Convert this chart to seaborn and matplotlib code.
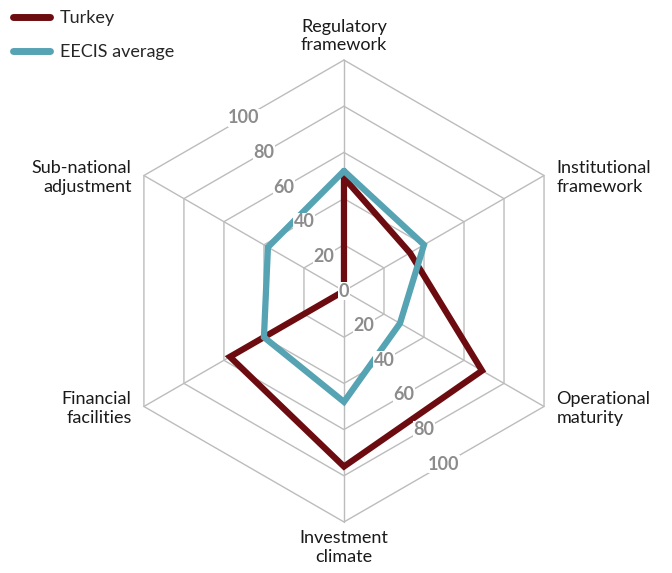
import numpy as np
import pandas as pd
import matplotlib.pyplot as plt
import seaborn as sns

# Data
categories = ["Regulatory\nframework", "Institutional\nframework", "Operational\nmaturity",
              "Investment\nclimate", "Financial\nfacilities", "Sub-national\nadjustment"]
series_names = ["Turkey", "EECIS average"]
turkey = [49, 33, 69, 76, 57, 0]
eecis = [52, 40, 28, 48, 40, 38]
ring_levels = [20, 40, 60, 80, 100]
upper_ticks = [0, 20, 40, 60, 80, 100]
lower_ticks = [20, 40, 60, 80, 100]

colors = {"Turkey": "#6d0c10", "EECIS average": "#55a3b3"}
grid_color = "#bcbcbc"

sns.set_theme(style="white")
plt.rcParams['font.family'] = ['Lato', 'DejaVu Sans']

# axes go clockwise starting at the top
angles = np.deg2rad(90 - 60 * np.arange(len(categories)))


def to_xy(vals):
    v = np.append(vals, vals[0])
    a = np.append(angles, angles[0])
    return v * np.cos(a), v * np.sin(a)


rows = []
for name, vals in zip(series_names, [turkey, eecis]):
    xs, ys = to_xy(np.array(vals, dtype=float))
    for i, (x, y) in enumerate(zip(xs, ys)):
        rows.append({"series": name, "order": i, "x": x, "y": y})
df = pd.DataFrame(rows)

fig = plt.figure(figsize=(6.72, 5.73), dpi=100)
ax = fig.add_axes([0, 0, 1, 1])

# hexagonal grid
for lvl in ring_levels:
    gx, gy = to_xy(np.full(len(categories), lvl, dtype=float))
    ax.plot(gx, gy, color=grid_color, lw=1.0, zorder=1)
for a in angles:
    ax.plot([0, 100 * np.cos(a)], [0, 100 * np.sin(a)], color=grid_color, lw=1.0, zorder=1)

# data polygons
sns.lineplot(data=df, x="x", y="y", hue="series", palette=colors, sort=False,
             estimator=None, lw=4.5, solid_joinstyle="miter", ax=ax, zorder=3)

# radial tick labels sit on the edge midpoints between axes
cos30 = np.cos(np.deg2rad(30))
tick_style = dict(ha="center", va="center", color="#8c8c8c", fontsize=13, fontweight="bold",
                  bbox=dict(fc="white", ec="none", pad=0.3), zorder=5)
for v in upper_ticks:
    r = v * cos30
    a = np.deg2rad(120)
    ax.text(r * np.cos(a), r * np.sin(a), str(v), **tick_style)
for v in lower_ticks:
    r = v * cos30
    a = np.deg2rad(300)
    ax.text(r * np.cos(a), r * np.sin(a), str(v), **tick_style)

# category labels
for cat, a in zip(categories, angles):
    cx, cy = np.cos(a), np.sin(a)
    if abs(cx) < 1e-6:
        y = 103.0 if cy > 0 else -103.5
        ax.text(0, y, cat, ha="center", va="bottom" if cy > 0 else "top",
                fontsize=13, color="#1a1a1a")
    else:
        x = 100 * cx + (5.3 if cx > 0 else -5.3)
        ax.text(x, 100 * cy - 0.8, cat, ha="left" if cx > 0 else "right", va="center",
                fontsize=13, color="#1a1a1a")

ax.set_xlim(-148.9, 142.0)
ax.set_ylim(-122.1, 126.0)
ax.axis("off")

handles, labels = ax.get_legend_handles_labels()
leg = ax.legend(handles, labels, loc="upper left", bbox_to_anchor=(13 / 672, 1 - 10 / 573),
                bbox_transform=fig.transFigure, frameon=False, fontsize=13,
                handlelength=2.05, handletextpad=0.55, labelspacing=1.0,
                borderpad=0, borderaxespad=0)
for h in leg.get_lines():
    h.set_linewidth(5)
    h.set_solid_capstyle("round")

fig.savefig("out.png", dpi=100)
